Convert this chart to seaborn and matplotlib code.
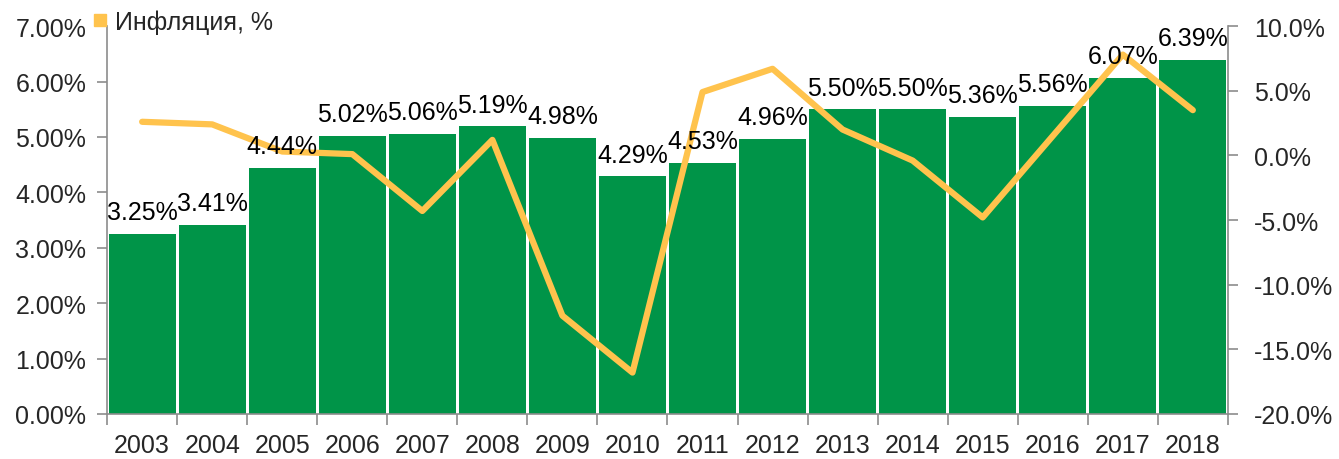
import numpy as np
import pandas as pd
import matplotlib
matplotlib.use("Agg")
import matplotlib.pyplot as plt
import seaborn as sns
from matplotlib.lines import Line2D
from matplotlib.ticker import FuncFormatter, FixedLocator

years = ["2003", "2004", "2005", "2006", "2007", "2008", "2009", "2010",
         "2011", "2012", "2013", "2014", "2015", "2016", "2017", "2018"]
bar_values = [3.25, 3.41, 4.44, 5.02, 5.06, 5.19, 4.98, 4.29,
              4.53, 4.96, 5.50, 5.50, 5.36, 5.56, 6.07, 6.39]
inflation = [2.6, 2.4, 0.3, 0.1, -4.3, 1.2, -12.4, -16.8,
             4.9, 6.7, 2.0, -0.4, -4.8, 1.5, 7.8, 3.5]
legend_label = "Инфляция, %"

GREEN = "#009448"
YELLOW = "#FFC34D"
GRAY = "#8C8C8C"
FS = 18

sns.set_theme(style="white")
plt.rcParams["font.family"] = ["Liberation Sans", "DejaVu Sans"]

fig = plt.figure(figsize=(13.39, 4.60), dpi=100)
ax = fig.add_axes([0.080, 0.098, 0.837, 0.843])

df = pd.DataFrame({"year": years, "value": bar_values})
sns.barplot(data=df, x="year", y="value", color=GREEN, saturation=1,
            width=0.96, ax=ax, linewidth=0)

ax.set_ylim(0, 7)
ax.set_xlim(-0.5, len(years) - 0.5)
ax.set_yticks(np.arange(0, 7.01, 1))
ax.yaxis.set_major_formatter(FuncFormatter(lambda v, p: f"{v:.2f}%"))
ax.set_xlabel("")
ax.set_ylabel("")

# x ticks: labels at centers, tick marks at boundaries
ax.tick_params(axis="x", which="major", length=0, pad=14, labelsize=FS)
ax.xaxis.set_minor_locator(FixedLocator(np.arange(-0.5, len(years), 1)))
ax.tick_params(axis="x", which="minor", length=8, width=1.2, color=GRAY,
               bottom=True)
ax.tick_params(axis="y", which="major", length=7, width=1.2, color=GRAY,
               pad=8, labelsize=FS, left=True)

for s in ["top", "right"]:
    ax.spines[s].set_visible(False)
for s in ["left", "bottom"]:
    ax.spines[s].set_color(GRAY)
    ax.spines[s].set_linewidth(1.2)

ax2 = ax.twinx()
ldf = pd.DataFrame({"x": np.arange(len(years)), "infl": inflation})
sns.lineplot(data=ldf, x="x", y="infl", color=YELLOW, linewidth=4.5, ax=ax2,
             legend=False)
ax2.set_ylim(-20, 10)
ax2.set_xlim(-0.5, len(years) - 0.5)
ax2.set_yticks(np.arange(-20, 10.01, 5))
ax2.yaxis.set_major_formatter(FuncFormatter(lambda v, p: f"{v:.1f}%"))
ax2.set_xlabel("")
ax2.set_ylabel("")
ax2.tick_params(axis="y", which="major", length=7, width=1.2, color=GRAY,
                pad=12, labelsize=FS, right=True)
for s in ["top", "left", "bottom"]:
    ax2.spines[s].set_visible(False)
ax2.spines["right"].set_color(GRAY)
ax2.spines["right"].set_linewidth(1.2)

# bar value labels drawn above the line (in bar data coordinates)
for i, v in enumerate(bar_values):
    ax2.annotate(f"{v:.2f}%", xy=(i, v), xycoords=ax.transData,
                 xytext=(0, 7), textcoords="offset points",
                 ha="center", va="bottom", fontsize=FS, color="black",
                 zorder=5)

handle = Line2D([], [], marker="s", color=YELLOW, linestyle="none",
                markersize=9)
fig.legend([handle], [legend_label], loc="upper left",
           bbox_to_anchor=(0.066, 0.985), frameon=False, fontsize=FS,
           handlelength=0.6, handletextpad=0.3, borderpad=0.15,
           borderaxespad=0)

fig.savefig("out.png", dpi=100)
